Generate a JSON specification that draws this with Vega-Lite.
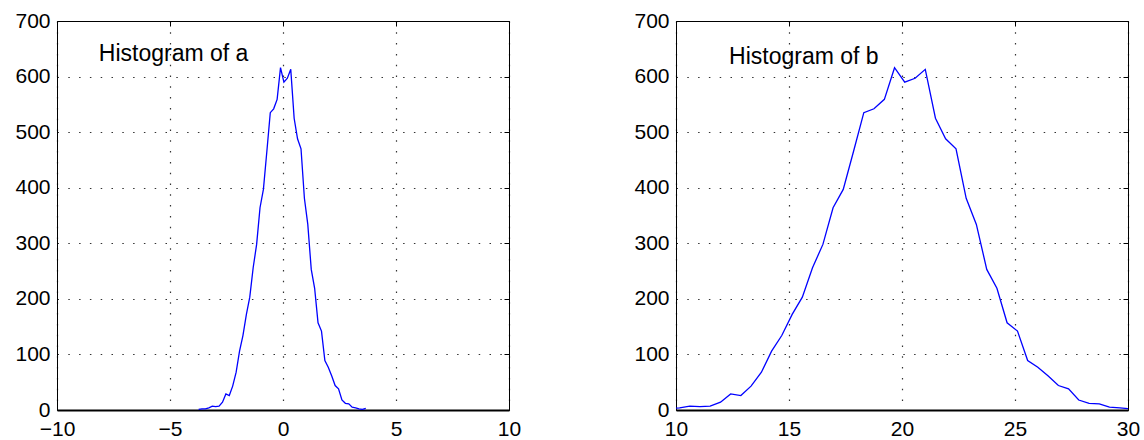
{
  "$schema": "https://vega.github.io/schema/vega-lite/v6.json",
  "padding": {"left": 14, "top": 9, "right": 0, "bottom": 0},
  "spacing": 167,
  "bounds": "flush",
  "config": {
    "font": "Liberation Sans",
    "view": {"stroke": "#000000", "strokeWidth": 1},
    "axis": {
      "labelFont": "Liberation Sans",
      "labelFontSize": 21,
      "labelColor": "#000000",
      "ticks": false,
      "tickColor": "#000000",
      "tickWidth": 1,
      "domainColor": "#000000",
      "grid": true,
      "gridColor": "#000000",
      "gridOpacity": 0.8,
      "gridDash": [1.5, 9.3],
      "gridWidth": 1.2,
      "title": null
    },
    "axisX": {"labelFlush": false, "labelPadding": 8, "domainWidth": 2},
    "axisY": {"labelPadding": 7, "domain": false}
  },
  "datasets": {
    "h": [
      {"a": -3.733, "b": 8.80, "n": 1},
      {"a": -3.583, "b": 9.25, "n": 2},
      {"a": -3.433, "b": 9.70, "n": 2},
      {"a": -3.280, "b": 10.16, "n": 4},
      {"a": -3.130, "b": 10.61, "n": 7},
      {"a": -2.980, "b": 11.06, "n": 6},
      {"a": -2.830, "b": 11.51, "n": 7},
      {"a": -2.677, "b": 11.97, "n": 14},
      {"a": -2.527, "b": 12.42, "n": 29},
      {"a": -2.377, "b": 12.87, "n": 26},
      {"a": -2.227, "b": 13.32, "n": 43},
      {"a": -2.073, "b": 13.78, "n": 68},
      {"a": -1.923, "b": 14.23, "n": 106},
      {"a": -1.773, "b": 14.68, "n": 134},
      {"a": -1.620, "b": 15.14, "n": 172},
      {"a": -1.470, "b": 15.59, "n": 203},
      {"a": -1.320, "b": 16.04, "n": 256},
      {"a": -1.167, "b": 16.50, "n": 298},
      {"a": -1.017, "b": 16.95, "n": 364},
      {"a": -0.867, "b": 17.40, "n": 397},
      {"a": -0.713, "b": 17.86, "n": 466},
      {"a": -0.563, "b": 18.31, "n": 535},
      {"a": -0.413, "b": 18.76, "n": 542},
      {"a": -0.260, "b": 19.22, "n": 559},
      {"a": -0.110, "b": 19.67, "n": 616},
      {"a": 0.040, "b": 20.12, "n": 590},
      {"a": 0.193, "b": 20.58, "n": 597},
      {"a": 0.343, "b": 21.03, "n": 613},
      {"a": 0.493, "b": 21.48, "n": 525},
      {"a": 0.643, "b": 21.93, "n": 488},
      {"a": 0.797, "b": 22.39, "n": 470},
      {"a": 0.947, "b": 22.84, "n": 381},
      {"a": 1.097, "b": 23.29, "n": 334},
      {"a": 1.250, "b": 23.75, "n": 253},
      {"a": 1.400, "b": 24.20, "n": 219},
      {"a": 1.550, "b": 24.65, "n": 157},
      {"a": 1.703, "b": 25.11, "n": 142},
      {"a": 1.853, "b": 25.56, "n": 89},
      {"a": 2.003, "b": 26.01, "n": 77},
      {"a": 2.157, "b": 26.47, "n": 61},
      {"a": 2.307, "b": 26.92, "n": 44},
      {"a": 2.457, "b": 27.37, "n": 38},
      {"a": 2.607, "b": 27.82, "n": 18},
      {"a": 2.760, "b": 28.28, "n": 12},
      {"a": 2.910, "b": 28.73, "n": 11},
      {"a": 3.060, "b": 29.18, "n": 5},
      {"a": 3.213, "b": 29.64, "n": 4},
      {"a": 3.363, "b": 30.09, "n": 2},
      {"a": 3.513, "b": 30.54, "n": 1},
      {"a": 3.663, "b": 30.99, "n": 3}
    ],
    "t": [
      {"panel": "a", "x": -8.15, "y": 628, "label": "Histogram of a"},
      {"panel": "b", "x": 12.35, "y": 622, "label": "Histogram of b"}
    ]
  },
  "hconcat": [
    {
      "width": 452,
      "height": 389,
      "resolve": {"axis": {"x": "independent", "y": "independent"}},
      "layer": [
        {
          "data": {"name": "h"},
          "mark": {"type": "line", "color": "#0000ff", "strokeWidth": 1.3, "clip": true},
          "encoding": {
            "x": {"field": "a", "type": "quantitative", "scale": {"domain": [-10, 10], "nice": false}, "axis": {"orient": "bottom", "values": [-10, -5, 0, 5, 10]}},
            "y": {"field": "n", "type": "quantitative", "scale": {"domain": [0, 700], "nice": false}, "axis": {"orient": "left", "values": [0, 100, 200, 300, 400, 500, 600, 700]}}
          }
        },
        {
          "data": {"name": "t"},
          "transform": [{"filter": "datum.panel == 'a'"}],
          "mark": {"type": "text", "align": "left", "baseline": "alphabetic", "fontSize": 23, "font": "Liberation Sans", "color": "#000000"},
          "encoding": {
            "x": {"field": "x", "type": "quantitative", "axis": {"orient": "top", "labels": false, "grid": false, "domain": false, "ticks": true, "tickSize": -5, "values": [-10, -5, 0, 5, 10]}},
            "y": {"field": "y", "type": "quantitative", "axis": {"orient": "right", "labels": false, "grid": false, "domain": false, "ticks": true, "tickSize": -5, "values": [0, 100, 200, 300, 400, 500, 600, 700]}},
            "text": {"field": "label"}
          }
        }
      ]
    },
    {
      "width": 452,
      "height": 389,
      "resolve": {"axis": {"x": "independent", "y": "independent"}},
      "layer": [
        {
          "data": {"name": "h"},
          "mark": {"type": "line", "color": "#0000ff", "strokeWidth": 1.3, "clip": true},
          "encoding": {
            "x": {"field": "b", "type": "quantitative", "scale": {"domain": [10, 30], "nice": false}, "axis": {"orient": "bottom", "values": [10, 15, 20, 25, 30]}},
            "y": {"field": "n", "type": "quantitative", "scale": {"domain": [0, 700], "nice": false}, "axis": {"orient": "left", "values": [0, 100, 200, 300, 400, 500, 600, 700]}}
          }
        },
        {
          "data": {"name": "t"},
          "transform": [{"filter": "datum.panel == 'b'"}],
          "mark": {"type": "text", "align": "left", "baseline": "alphabetic", "fontSize": 23, "font": "Liberation Sans", "color": "#000000"},
          "encoding": {
            "x": {"field": "x", "type": "quantitative", "axis": {"orient": "top", "labels": false, "grid": false, "domain": false, "ticks": true, "tickSize": -5, "values": [10, 15, 20, 25, 30]}},
            "y": {"field": "y", "type": "quantitative", "axis": {"orient": "right", "labels": false, "grid": false, "domain": false, "ticks": true, "tickSize": -5, "values": [0, 100, 200, 300, 400, 500, 600, 700]}},
            "text": {"field": "label"}
          }
        }
      ]
    }
  ]
}
